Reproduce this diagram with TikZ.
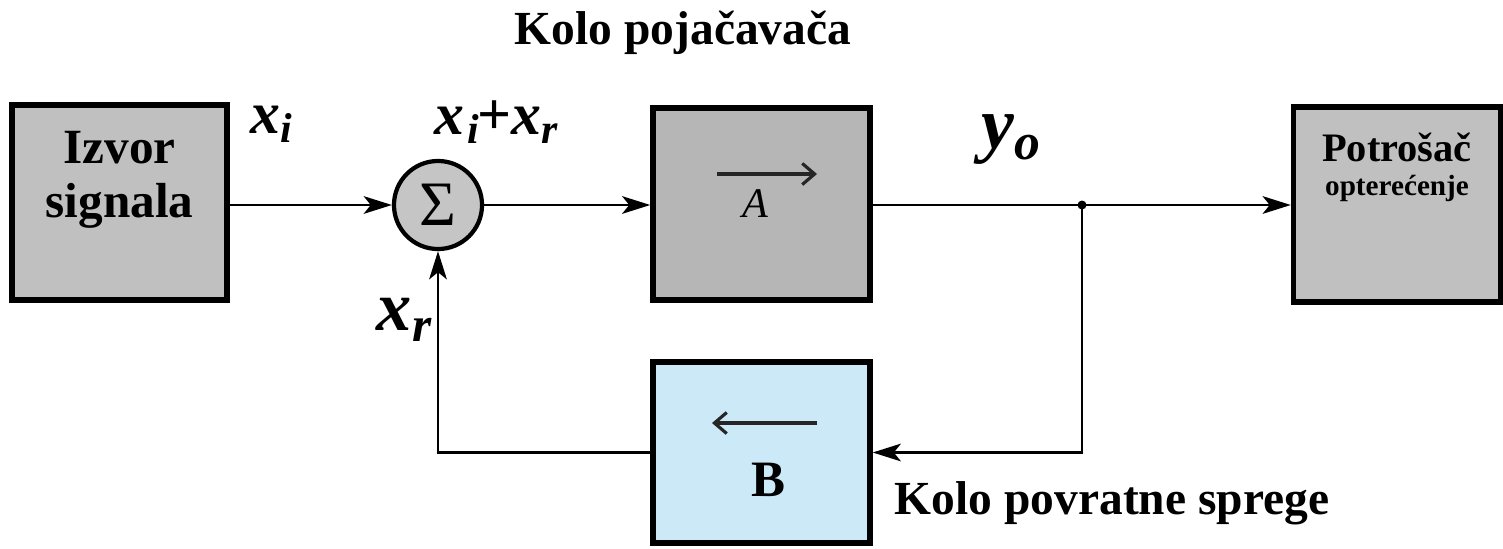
\documentclass[tikz,border=0pt]{standalone}
\usepackage{fontspec}
\setmainfont{Liberation Serif}
\usetikzlibrary{positioning, arrows.meta}
\definecolor{srcgray}{RGB}{192,192,192}
\definecolor{ampgray}{RGB}{182,182,182}
\definecolor{fbblue}{RGB}{204,233,247}

\begin{document}
\begin{tikzpicture}[x=0.01cm, y=-0.01cm, every node/.style={inner sep=0pt},
  block/.style={draw, line width=1.5pt, fill=srcgray, minimum width=2.15cm, minimum height=1.95cm},
  head/.style={font=\fontsize{13.5}{14}\selectfont\bfseries, align=center},
  sig/.style={font=\fontsize{17}{17}\selectfont\bfseries\itshape},
  wire/.style={line width=0.8pt, -{Stealth[length=8pt, width=5pt, inset=2pt]}},
  barb/.style={line width=0.9pt, black!85, -{Straight Barb[length=3.5pt, width=6pt]}}]
\useasboundingbox (0,0) rectangle (1503,548);
% blocks
\node[block] (izvor) at (119.5,202.5) {};
\node[head, font=\fontsize{14}{15.5}\selectfont\bfseries] (izvorlbl) at (119.5,180) {Izvor\\signala};
\node[draw, circle, line width=1.2pt, fill=ampgray!80, minimum size=0.88cm] (sum) at (438,205)
  {\fontsize{18}{18}\selectfont Σ};
\node[block, fill=ampgray, minimum width=2.17cm, minimum height=1.92cm] (amp) at (761.5,204) {};
\node[block, minimum width=2.07cm] (load) at (1397,204.5) {};
\node[font=\fontsize{11.5}{12}\selectfont\bfseries] (loadlbl) at (1397,147) {Potrošač};
\node[font=\fontsize{8.3}{9}\selectfont\bfseries] (loadsub) at (1397,188) {opterećenje};
\node[block, fill=fbblue, minimum width=2.17cm, minimum height=1.81cm] (fb) at (761.5,452.5) {};
% arrows inside the blocks
\coordinate (aa) at (717,174);
\coordinate (ab) at (817,174);
\draw[barb] (aa) -- (ab);
\node[font=\fontsize{12}{12}\selectfont\itshape] (alabel) at (755,204) {A};
\coordinate (ba) at (817,423);
\coordinate (bb) at (712,423);
\draw[barb] (ba) -- (bb);
\node[font=\fontsize{14.5}{15}\selectfont\bfseries] (blabel) at (768,480) {B};
% signal path
\fill (1082,205) circle (4.5) coordinate (jn);
\draw[wire] (izvor.east |- sum) -- (sum.west);
\draw[wire] (sum.east) -- (amp.west |- sum);
\draw[line width=0.8pt] (amp.east |- jn) -- (jn);
\draw[wire] (jn) -- (load.west |- jn);
\draw[wire] (jn) |- (fb.east);
\draw[wire] (fb.west) -| (sum.south);
% labels
\node[head] (title) at (683,33) {Kolo pojačavača};
\node[head] (fbtitle) at (1112,503) {Kolo povratne sprege};
\node[sig] (xi) at (272,124) {x\textsubscript{i}};
\node[sig] (xsum) at (497,122) {x\kern1pt\textsubscript{i}\kern-1pt{\upshape+}x\textsubscript{r}};
\node[sig, font=\fontsize{21}{21}\selectfont\bfseries\itshape] (yo) at (1012,140) {y\textsubscript{o}};
\node[sig, font=\fontsize{20}{20}\selectfont\bfseries\itshape] (xr) at (405,320) {x\textsubscript{r}};
\end{tikzpicture}
\end{document}
